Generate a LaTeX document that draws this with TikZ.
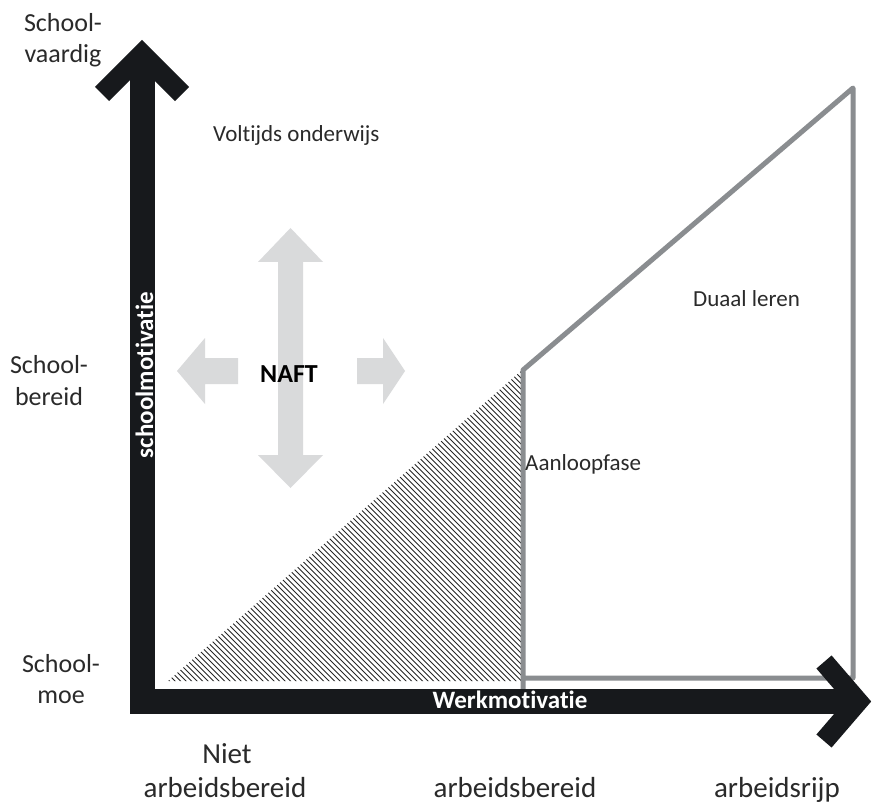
\documentclass[tikz,border=0pt]{standalone}
\usepackage{fontspec}
\setmainfont{Carlito}[Ligatures=NoCommon]
\definecolor{axisblack}{HTML}{17191C}
\definecolor{lineGray}{HTML}{8A8D90}
\definecolor{naftGray}{HTML}{D9DADB}
\definecolor{txtGray}{HTML}{2A2A2A}
\tikzset{
  axisbar/.style={draw=axisblack, line width=25pt, line join=miter},
  axishead/.style={draw=axisblack, line width=20pt, line join=miter, line cap=butt},
  outline/.style={draw=lineGray, line width=5pt, line join=round},
  hatchline/.style={draw=black!85, line width=0.8pt},
  naftarrow/.style={fill=naftGray, draw=none},
  sidelbl/.style={font=\fontsize{26}{31}\selectfont, text=txtGray, inner sep=0pt, anchor=base},
  midlbl/.style={font=\fontsize{23}{28}\selectfont, text=txtGray, inner sep=0pt, anchor=base},
  botlbl/.style={font=\fontsize{29}{34}\selectfont, text=txtGray, inner sep=0pt, anchor=base},
  axislbl/.style={font=\bfseries\fontsize{25}{30}\selectfont, text=white, inner sep=0pt, anchor=base},
  naftlbl/.style={font=\bfseries\fontsize{26}{30}\selectfont, text=black, inner sep=0pt, anchor=base}
}
\begin{document}
\begin{tikzpicture}[x=1pt,y=-1pt]
\useasboundingbox (0,0) rectangle (873,805);
\fill[white] (0,0) rectangle (873,805);

% hatched triangle
\begin{scope}
  \clip (168,681) -- (521,681) -- (521,371) -- cycle;
  \foreach \k in {165,170.5,...,845} \draw[hatchline] (\k,682) -- ++(-340,-340);
\end{scope}

% grey outline (aanloopfase / duaal leren)
\draw[outline] (523,690) -- (523,370) -- (853,88) -- (853,678) -- (523,678);

% NAFT arrows
\fill[naftarrow] (290.5,228) -- (323,262) -- (303,262) -- (303,455) -- (323,455) -- (290.5,488) -- (258,455) -- (278,455) -- (278,262) -- (258,262) -- cycle;
\fill[naftarrow] (177,371) -- (205,338) -- (205,358) -- (238,358) -- (238,384) -- (205,384) -- (205,404) -- cycle;
\fill[naftarrow] (405,371) -- (383,338) -- (383,358) -- (357,358) -- (357,384) -- (383,384) -- (383,404) -- cycle;

% axes
\coordinate (ytop) at (142,60);
\coordinate (origin) at (142,701.5);
\coordinate (xend) at (858,701.5);
\draw[axisbar] (ytop) -- (origin) -- (xend);
\coordinate (yv) at (142,54);
\draw[axishead] (102,94) -- (yv) -- (182,94);
\draw[axishead] (824,662) -- (xend) -- (824,741);

% axis labels
\node[axislbl, rotate=90] (schoolmot) at (153,375) {schoolmotivatie};
\node[axislbl] (werkmot) at (510,708) {Werkmotivatie};

% side labels
\node[sidelbl] (sv1) at (63,32) {School-};
\node[sidelbl] (sv2) at (63,63) {vaardig};
\node[sidelbl] (sb1) at (49,373) {School-};
\node[sidelbl] (sb2) at (49,405) {bereid};
\node[sidelbl] (sm1) at (61,672) {School-};
\node[sidelbl] (sm2) at (61,703) {moe};

% area labels
\node[midlbl, anchor=base west] (voltijds) at (213,142) {Voltijds onderwijs};
\node[midlbl, anchor=base west] (duaal) at (693,306) {Duaal leren};
\node[midlbl, anchor=base west] (aanloop) at (525,470) {Aanloopfase};
\node[naftlbl] (naft) at (289,382) {NAFT};

% bottom labels
\node[botlbl] (niet) at (227,763) {Niet};
\node[botlbl] (ab1) at (225,797) {arbeidsbereid};
\node[botlbl] (ab2) at (515,797) {arbeidsbereid};
\node[botlbl] (ar) at (777,797) {arbeidsrijp};
\end{tikzpicture}
\end{document}
